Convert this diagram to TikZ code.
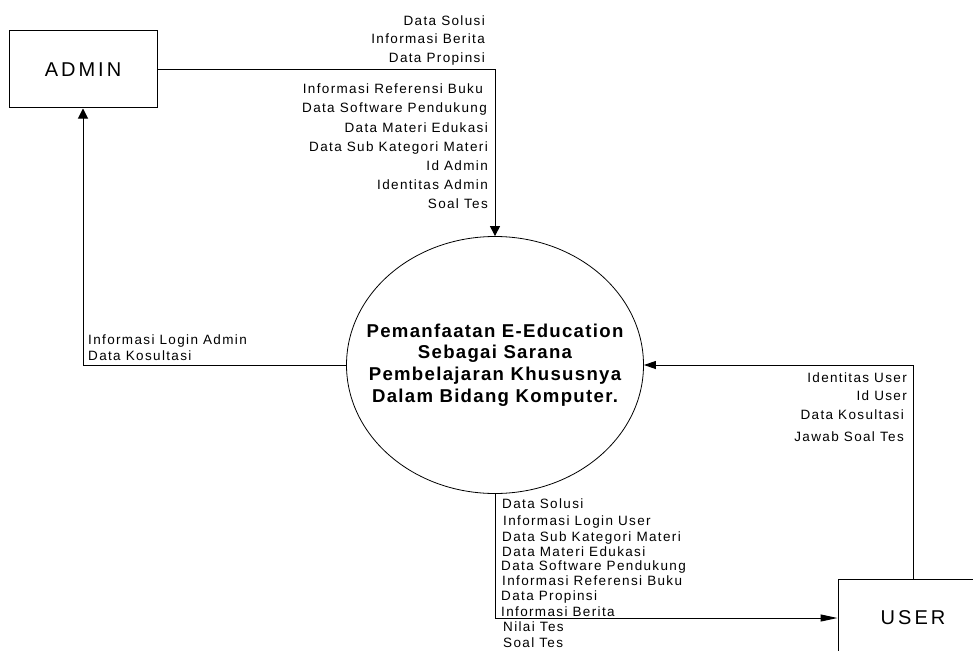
\documentclass[tikz,border=0pt]{standalone}
\usepackage{fontspec}
\setmainfont{Liberation Sans}
\newfontfamily\lblfont{Liberation Sans}[LetterSpace=10]
\newfontfamily\entfont{Liberation Sans}[LetterSpace=15]
\newfontfamily\ctrfont{Liberation Sans}[LetterSpace=7]
\usetikzlibrary{shapes.geometric,arrows.meta}
\begin{document}
\begin{tikzpicture}[x=1pt,y=-1pt,
  ent/.style={draw,line width=1pt,rectangle,inner sep=0pt,font=\entfont\fontsize{20}{24}\selectfont},
  proc/.style={draw,line width=0.8pt,ellipse,inner sep=0pt,minimum width=297pt,minimum height=257pt},
  ptext/.style={inner sep=0pt,align=center,font=\ctrfont\bfseries\fontsize{18.6}{21.7}\selectfont},
  lbl/.style={inner sep=0pt,font=\lblfont\fontsize{13.5}{15}\selectfont},
  flow/.style={line width=1pt}
]
\useasboundingbox (0,0) rectangle (973,650);
\clip (0,0) rectangle (973,650);
\node[ent,minimum width=148pt,minimum height=77pt] (admin) at (83,69.5) {ADMIN};
\node[ent,minimum width=150pt,minimum height=78pt] (user) at (913,618) {USER};
\node[proc] (p) at (495,365) {};
\node[ptext] (ptxt) at (p.center) {Pemanfaatan E-Education\\Sebagai Sarana\\Pembelajaran Khususnya\\Dalam Bidang Komputer.};

\draw[flow,-{Triangle[length=10pt,width=10pt]}] (admin.east) -| (p.north);
\draw[flow,-{Triangle[length=10pt,width=10pt]}] (p.west) -| (admin.south);
\draw[flow,-{Triangle[length=12pt,width=8pt]}] (user.north) |- (p.east);
\draw[flow,-{Triangle[length=17pt,width=7pt]}] (p.south) |- (user.west);

% top labels
\node[lbl,anchor=base east] (t1) at (485,25.5) {Data Solusi};
\node[lbl,anchor=base east] (t2) at (485,43.5) {Informasi Berita};
\node[lbl,anchor=base east] (t3) at (485,62.5) {Data Propinsi};
\node[lbl,anchor=base east] (t4) at (483,93.5) {Informasi Referensi Buku};
\node[lbl,anchor=base east] (t5) at (487,112.5) {Data Software Pendukung};
\node[lbl,anchor=base east] (t6) at (488,132.5) {Data Materi Edukasi};
\node[lbl,anchor=base east] (t7) at (488,151.5) {Data Sub Kategori Materi};
\node[lbl,anchor=base east] (t8) at (488,170.5) {Id Admin};
\node[lbl,anchor=base east] (t9) at (488,189.5) {Identitas Admin};
\node[lbl,anchor=base east] (t10) at (488,208.5) {Soal Tes};
% left labels
\node[lbl,anchor=base west] (l1) at (88,344) {Informasi Login Admin};
\node[lbl,anchor=base west] (l2) at (88,360) {Data Kosultasi};
% right labels
\node[lbl,anchor=base east] (r1) at (907,382) {Identitas User};
\node[lbl,anchor=base east] (r2) at (907,400.5) {Id User};
\node[lbl,anchor=base east] (r3) at (904,419) {Data Kosultasi};
\node[lbl,anchor=base east] (r4) at (904,441) {Jawab Soal Tes};
% bottom labels
\node[lbl,anchor=base west] (b1) at (502,508) {Data Solusi};
\node[lbl,anchor=base west] (b2) at (503,525.7) {Informasi Login User};
\node[lbl,anchor=base west] (b3) at (502,541.7) {Data Sub Kategori Materi};
\node[lbl,anchor=base west] (b4) at (502,556.7) {Data Materi Edukasi};
\node[lbl,anchor=base west] (b5) at (501,570.7) {Data Software Pendukung};
\node[lbl,anchor=base west] (b6) at (502,585.7) {Informasi Referensi Buku};
\node[lbl,anchor=base west] (b7) at (501,600) {Data Propinsi};
\node[lbl,anchor=base west] (b8) at (501,616) {Informasi Berita};
\node[lbl,anchor=base west] (b9) at (503,631.7) {Nilai Tes};
\node[lbl,anchor=base west] (b10) at (503,647.3) {Soal Tes};
\end{tikzpicture}
\end{document}
